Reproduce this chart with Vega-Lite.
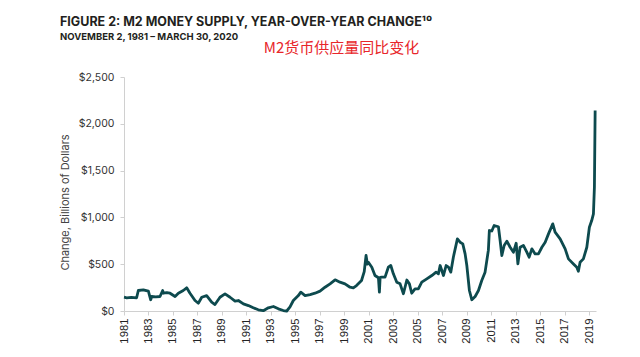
{
  "$schema": "https://vega.github.io/schema/vega-lite/v6.json",
  "autosize": {"type": "none"},
  "padding": {"left": 124, "top": 77, "right": 44, "bottom": 46},
  "width": 472,
  "height": 234,
  "background": "white",
  "title": {
    "text": "FIGURE 2: M2 MONEY SUPPLY, YEAR-OVER-YEAR CHANGE¹⁰",
    "subtitle": "NOVEMBER 2, 1981 – MARCH 30, 2020",
    "anchor": "start",
    "frame": "group",
    "dx": -64,
    "dy": 11,
    "font": "Inter",
    "fontSize": 12.5,
    "fontWeight": "bold",
    "color": "#231f20",
    "subtitleFont": "Inter",
    "subtitleFontSize": 9.5,
    "subtitleFontWeight": "bold",
    "subtitleColor": "#231f20",
    "subtitlePadding": 3,
    "offset": 10
  },
  "config": {
    "view": {"stroke": null},
    "axis": {"grid": false, "domainColor": "#d0d0d0", "tickColor": "#d0d0d0", "labelFont": "Inter", "labelColor": "#333333", "labelFontSize": 10, "titleFont": "Inter", "titleFontWeight": "normal"}
  },
  "data": {
    "values": [
      {"t": 1981.00, "v": 147}, {"t": 1981.22, "v": 141}, {"t": 1981.60, "v": 146}, {"t": 1982.03, "v": 141},
      {"t": 1982.17, "v": 219}, {"t": 1982.58, "v": 226}, {"t": 1982.99, "v": 212}, {"t": 1983.18, "v": 120},
      {"t": 1983.26, "v": 155}, {"t": 1983.60, "v": 150}, {"t": 1983.94, "v": 155}, {"t": 1984.16, "v": 219},
      {"t": 1984.21, "v": 190}, {"t": 1984.49, "v": 197}, {"t": 1984.76, "v": 190}, {"t": 1985.17, "v": 155},
      {"t": 1985.44, "v": 190}, {"t": 1985.84, "v": 219}, {"t": 1986.12, "v": 248}, {"t": 1986.39, "v": 190},
      {"t": 1986.80, "v": 112}, {"t": 1987.07, "v": 83}, {"t": 1987.35, "v": 147}, {"t": 1987.75, "v": 165},
      {"t": 1988.16, "v": 94}, {"t": 1988.43, "v": 69}, {"t": 1988.84, "v": 147}, {"t": 1989.25, "v": 183},
      {"t": 1989.66, "v": 147}, {"t": 1990.07, "v": 105}, {"t": 1990.34, "v": 112}, {"t": 1990.75, "v": 76},
      {"t": 1991.16, "v": 58}, {"t": 1991.56, "v": 34}, {"t": 1991.97, "v": 13}, {"t": 1992.38, "v": 3},
      {"t": 1992.79, "v": 34}, {"t": 1993.20, "v": 48}, {"t": 1993.61, "v": 23}, {"t": 1994.01, "v": 5},
      {"t": 1994.29, "v": 0}, {"t": 1994.56, "v": 44}, {"t": 1994.83, "v": 112}, {"t": 1995.24, "v": 165},
      {"t": 1995.44, "v": 201}, {"t": 1995.79, "v": 165}, {"t": 1996.20, "v": 176}, {"t": 1996.60, "v": 190},
      {"t": 1997.01, "v": 212}, {"t": 1997.42, "v": 254}, {"t": 1997.83, "v": 290}, {"t": 1998.24, "v": 333},
      {"t": 1998.64, "v": 308}, {"t": 1999.05, "v": 290}, {"t": 1999.46, "v": 254}, {"t": 1999.73, "v": 248},
      {"t": 1999.99, "v": 272}, {"t": 2000.40, "v": 326}, {"t": 2000.62, "v": 420}, {"t": 2000.77, "v": 593},
      {"t": 2000.88, "v": 500}, {"t": 2000.96, "v": 521}, {"t": 2001.24, "v": 468},
      {"t": 2001.50, "v": 379}, {"t": 2001.78, "v": 355}, {"t": 2001.86, "v": 201}, {"t": 2001.92, "v": 360},
      {"t": 2002.05, "v": 362}, {"t": 2002.32, "v": 362}, {"t": 2002.59, "v": 468}, {"t": 2002.79, "v": 486},
      {"t": 2003.00, "v": 397}, {"t": 2003.28, "v": 308}, {"t": 2003.55, "v": 290}, {"t": 2003.82, "v": 184},
      {"t": 2004.10, "v": 331}, {"t": 2004.31, "v": 290}, {"t": 2004.50, "v": 190}, {"t": 2004.77, "v": 237},
      {"t": 2005.04, "v": 237}, {"t": 2005.32, "v": 308}, {"t": 2005.73, "v": 344}, {"t": 2006.14, "v": 379},
      {"t": 2006.49, "v": 415}, {"t": 2006.68, "v": 397}, {"t": 2006.82, "v": 486}, {"t": 2007.09, "v": 379},
      {"t": 2007.31, "v": 486}, {"t": 2007.50, "v": 468}, {"t": 2007.69, "v": 415}, {"t": 2007.90, "v": 575},
      {"t": 2008.23, "v": 771}, {"t": 2008.45, "v": 735}, {"t": 2008.67, "v": 717}, {"t": 2008.86, "v": 610},
      {"t": 2009.00, "v": 486}, {"t": 2009.21, "v": 219}, {"t": 2009.41, "v": 120}, {"t": 2009.68, "v": 155},
      {"t": 2009.95, "v": 219}, {"t": 2010.22, "v": 326}, {"t": 2010.49, "v": 415}, {"t": 2010.76, "v": 650},
      {"t": 2010.84, "v": 860}, {"t": 2011.04, "v": 855}, {"t": 2011.23, "v": 913}, {"t": 2011.58, "v": 900},
      {"t": 2011.72, "v": 753}, {"t": 2011.86, "v": 593}, {"t": 2012.05, "v": 700}, {"t": 2012.27, "v": 746},
      {"t": 2012.54, "v": 681}, {"t": 2012.81, "v": 628}, {"t": 2013.03, "v": 724}, {"t": 2013.17, "v": 504},
      {"t": 2013.35, "v": 681}, {"t": 2013.62, "v": 700}, {"t": 2013.90, "v": 628}, {"t": 2014.09, "v": 575},
      {"t": 2014.31, "v": 664}, {"t": 2014.58, "v": 610}, {"t": 2014.85, "v": 610}, {"t": 2015.13, "v": 681},
      {"t": 2015.40, "v": 735}, {"t": 2015.67, "v": 824}, {"t": 2016.02, "v": 931}, {"t": 2016.21, "v": 842},
      {"t": 2016.62, "v": 771}, {"t": 2017.03, "v": 664}, {"t": 2017.30, "v": 557}, {"t": 2017.71, "v": 503},
      {"t": 2017.98, "v": 468}, {"t": 2018.11, "v": 425}, {"t": 2018.25, "v": 521}, {"t": 2018.52, "v": 557},
      {"t": 2018.80, "v": 681}, {"t": 2019.01, "v": 895}, {"t": 2019.20, "v": 966}, {"t": 2019.34, "v": 1038},
      {"t": 2019.42, "v": 1322}, {"t": 2019.48, "v": 2141}
    ]
  },
  "mark": {"type": "line", "color": "#0d4a4e", "strokeWidth": 2.8, "strokeJoin": "round"},
  "encoding": {
    "x": {
      "field": "t", "type": "quantitative",
      "scale": {"domain": [1981, 2019.55], "nice": false, "zero": false},
      "axis": {
        "values": [1981, 1983, 1985, 1987, 1989, 1991, 1993, 1995, 1997, 1999, 2001, 2003, 2005, 2007, 2009, 2011, 2013, 2015, 2017, 2019],
        "format": "d", "labelAngle": -90, "labelPadding": 3, "tickSize": 4, "labelFlush": false, "labelOverlap": false,
        "labelFont": "Liberation Sans", "labelFontSize": 11.3, "labelColor": "#222222",
        "title": "M2货币供应量同比变化",
        "titleFont": "Noto Sans CJK SC", "titleFontSize": 15, "titleColor": "#e8262a", "titleFontWeight": "normal",
        "titleAnchor": null, "titleAlign": "center", "titleBaseline": "middle",
        "titleX": 217, "titleY": -264
      }
    },
    "y": {
      "field": "v", "type": "quantitative",
      "scale": {"domain": [0, 2500], "nice": false},
      "axis": {
        "values": [0, 500, 1000, 1500, 2000, 2500],
        "format": "$,.0f", "tickSize": 4, "labelPadding": 6, "labelFontSize": 10.5,
        "title": "Change, Billions of Dollars", "titleFontSize": 11, "titleColor": "#444444",
        "titleX": -59, "titleY": 125, "titleAlign": "center", "titleBaseline": "middle", "titleAngle": -90
      }
    }
  }
}
